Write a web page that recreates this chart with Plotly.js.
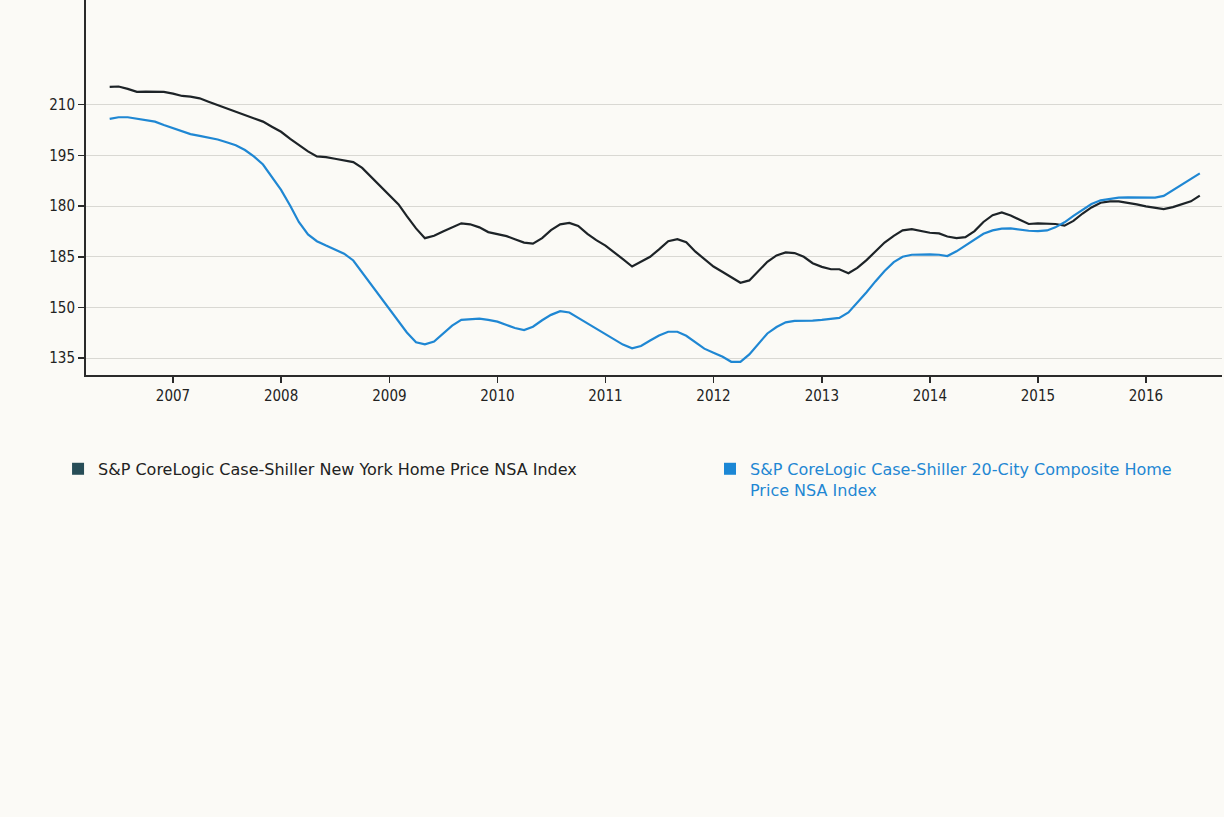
<!DOCTYPE html>
<html>
<head>
<meta charset="utf-8">
<script src="https://cdn.plot.ly/plotly-3.0.1.min.js"></script>
<style>
html,body{margin:0;padding:0;background:#fbfaf6;}
#chart{width:1224px;height:817px;}
</style>
</head>
<body>
<div id="chart"></div>
<script>
// Months (monthly observations)
const months = [
 "2006-06","2006-07","2006-08","2006-09","2006-10","2006-11","2006-12",
 "2007-01","2007-02","2007-03","2007-04","2007-05","2007-06","2007-07","2007-08","2007-09","2007-10","2007-11","2007-12",
 "2008-01","2008-02","2008-03","2008-04","2008-05","2008-06","2008-07","2008-08","2008-09","2008-10","2008-11","2008-12",
 "2009-01","2009-02","2009-03","2009-04","2009-05","2009-06","2009-07","2009-08","2009-09","2009-10","2009-11","2009-12",
 "2010-01","2010-02","2010-03","2010-04","2010-05","2010-06","2010-07","2010-08","2010-09","2010-10","2010-11","2010-12",
 "2011-01","2011-02","2011-03","2011-04","2011-05","2011-06","2011-07","2011-08","2011-09","2011-10","2011-11","2011-12",
 "2012-01","2012-02","2012-03","2012-04","2012-05","2012-06","2012-07","2012-08","2012-09","2012-10","2012-11","2012-12",
 "2013-01","2013-02","2013-03","2013-04","2013-05","2013-06","2013-07","2013-08","2013-09","2013-10","2013-11","2013-12",
 "2014-01","2014-02","2014-03","2014-04","2014-05","2014-06","2014-07","2014-08","2014-09","2014-10","2014-11","2014-12",
 "2015-01","2015-02","2015-03","2015-04","2015-05","2015-06","2015-07","2015-08","2015-09","2015-10","2015-11","2015-12",
 "2016-01","2016-02","2016-03","2016-04","2016-05","2016-06","2016-07"
];

// S&P CoreLogic Case-Shiller New York Home Price NSA Index
const newYork = [
 215.3,215.4,214.7,213.8,213.9,213.9,213.8,
 213.3,212.6,212.4,211.9,210.9,209.9,209.0,207.9,206.9,206.1,205.0,203.5,
 202.0,199.9,198.0,196.2,194.7,194.5,194.0,193.6,193.0,191.3,188.5,185.8,
 183.1,180.5,177.0,173.4,170.5,171.2,172.5,173.8,174.9,174.6,173.7,172.3,
 171.8,171.1,170.2,169.2,168.9,170.5,172.9,174.6,175.0,174.1,171.8,169.9,
 168.3,166.3,164.3,162.1,163.6,165.0,167.2,169.6,170.2,169.3,166.5,164.3,
 162.1,160.5,158.9,157.3,158.0,160.8,163.5,165.4,166.3,166.1,165.0,163.1,
 162.0,161.3,161.3,160.1,161.7,164.0,166.5,169.2,171.2,172.8,173.2,172.7,
 172.1,171.9,171.0,170.5,170.8,172.6,175.3,177.3,178.1,177.2,175.9,174.7,
 174.9,174.9,174.7,174.2,175.6,177.8,179.6,181.0,181.4,181.4,181.0,180.5,
 179.9,179.5,179.1,179.7,180.5,181.4,183.1
];

// S&P CoreLogic Case-Shiller 20-City Composite Home Price NSA Index
const composite20 = [
 205.8,206.3,206.3,205.9,205.5,205.0,204.0,
 203.0,202.1,201.3,200.8,200.3,199.7,198.9,198.0,196.6,194.7,192.3,188.6,
 184.8,180.1,175.3,171.6,169.6,168.3,167.2,165.9,163.9,160.4,156.8,153.3,
 149.6,145.9,142.6,139.7,139.1,139.9,142.3,144.6,146.3,146.6,146.7,146.3,
 145.8,144.8,143.9,143.3,144.3,146.2,147.8,148.9,148.5,146.9,145.3,143.7,
 142.1,140.6,139.0,137.9,138.6,140.2,141.7,142.8,142.8,141.6,139.8,137.8,
 136.6,135.4,133.9,133.9,136.1,139.2,142.3,144.2,145.6,146.0,146.0,146.1,
 146.3,146.5,146.9,148.5,151.3,154.5,157.7,160.8,163.4,165.0,165.6,165.7,
 165.7,165.6,165.2,166.6,168.3,170.2,171.8,172.8,173.3,173.4,173.0,172.7,
 172.6,172.8,173.7,175.2,177.1,179.0,180.6,181.7,182.2,182.5,182.6,182.6,
 182.6,182.5,183.0,184.7,186.5,188.1,189.7
];

// Axis ticks
const xTickVals = ["2007-01-01","2008-01-01","2009-01-01","2010-01-01","2011-01-01","2012-01-01","2013-01-01","2014-01-01","2015-01-01","2016-01-01"];
const xTickText = ["2007","2008","2009","2010","2011","2012","2013","2014","2015","2016"];
const yTickVals = [135,150,165,180,195,210];
const yTickText = ["135","150","185","180","195","210"];

const seriesNames = [
 "S&P CoreLogic Case-Shiller New York Home Price NSA Index",
 "S&P CoreLogic Case-Shiller 20-City Composite Home<br>Price NSA Index"
];

const BLACK = "#1d2327";
const BLUE = "#1f87d3";
const TICKFONT = "DejaVu Sans Condensed, DejaVu Sans, sans-serif";
const LEGFONT = "DejaVu Sans, sans-serif";

const traces = [
 {x: months, y: newYork, type: "scatter", mode: "lines", line: {color: BLACK, width: 2.2}, showlegend: false, hoverinfo: "x+y"},
 {x: months, y: composite20, type: "scatter", mode: "lines", line: {color: BLUE, width: 2.2}, showlegend: false, hoverinfo: "x+y"},
 {x: [null], y: [null], type: "scatter", mode: "markers", name: seriesNames[0],
  marker: {symbol: "square", size: 12, color: "#274d57"}, showlegend: true, legend: "legend"},
 {x: [null], y: [null], type: "scatter", mode: "markers", name: seriesNames[1],
  marker: {symbol: "square", size: 12, color: "#1b87d5"}, showlegend: true, legend: "legend2"}
];

const layout = {
 width: 1224, height: 817,
 paper_bgcolor: "#fbfaf6", plot_bgcolor: "#fbfaf6",
 margin: {l: 86, r: 2, t: 0, b: 442},
 font: {family: TICKFONT, color: "#222", size: 15},
 xaxis: {
  type: "date", range: ["2006-03-13", "2016-09-14"],
  tickvals: xTickVals, ticktext: xTickText,
  showgrid: false, zeroline: false,
  showline: true, linecolor: "#2a2a2a", linewidth: 2,
  ticks: "outside", ticklen: 6, tickwidth: 1.5, tickcolor: "#2a2a2a",
  tickfont: {family: TICKFONT, size: 15, color: "#222"}
 },
 yaxis: {
  range: [130, 241],
  tickvals: yTickVals, ticktext: yTickText,
  showgrid: true, gridcolor: "#d9d8d3", gridwidth: 1,
  zeroline: false,
  showline: true, linecolor: "#2a2a2a", linewidth: 2,
  ticks: "outside", ticklen: 6, tickwidth: 1.5, tickcolor: "#2a2a2a",
  tickfont: {family: TICKFONT, size: 15, color: "#222"}
 },
 showlegend: true,
 legend: {
  orientation: "v", x: -0.0246, xanchor: "left", y: -0.205, yanchor: "top",
  font: {family: LEGFONT, size: 16, color: "#222"},
  bgcolor: "rgba(0,0,0,0)", valign: "top"
 },
 legend2: {
  orientation: "v", x: 0.5493, xanchor: "left", y: -0.205, yanchor: "top",
  font: {family: LEGFONT, size: 16, color: BLUE},
  bgcolor: "rgba(0,0,0,0)", valign: "top"
 }
};

Plotly.newPlot("chart", traces, layout, {displayModeBar: false, staticPlot: true});
</script>
</body>
</html>
